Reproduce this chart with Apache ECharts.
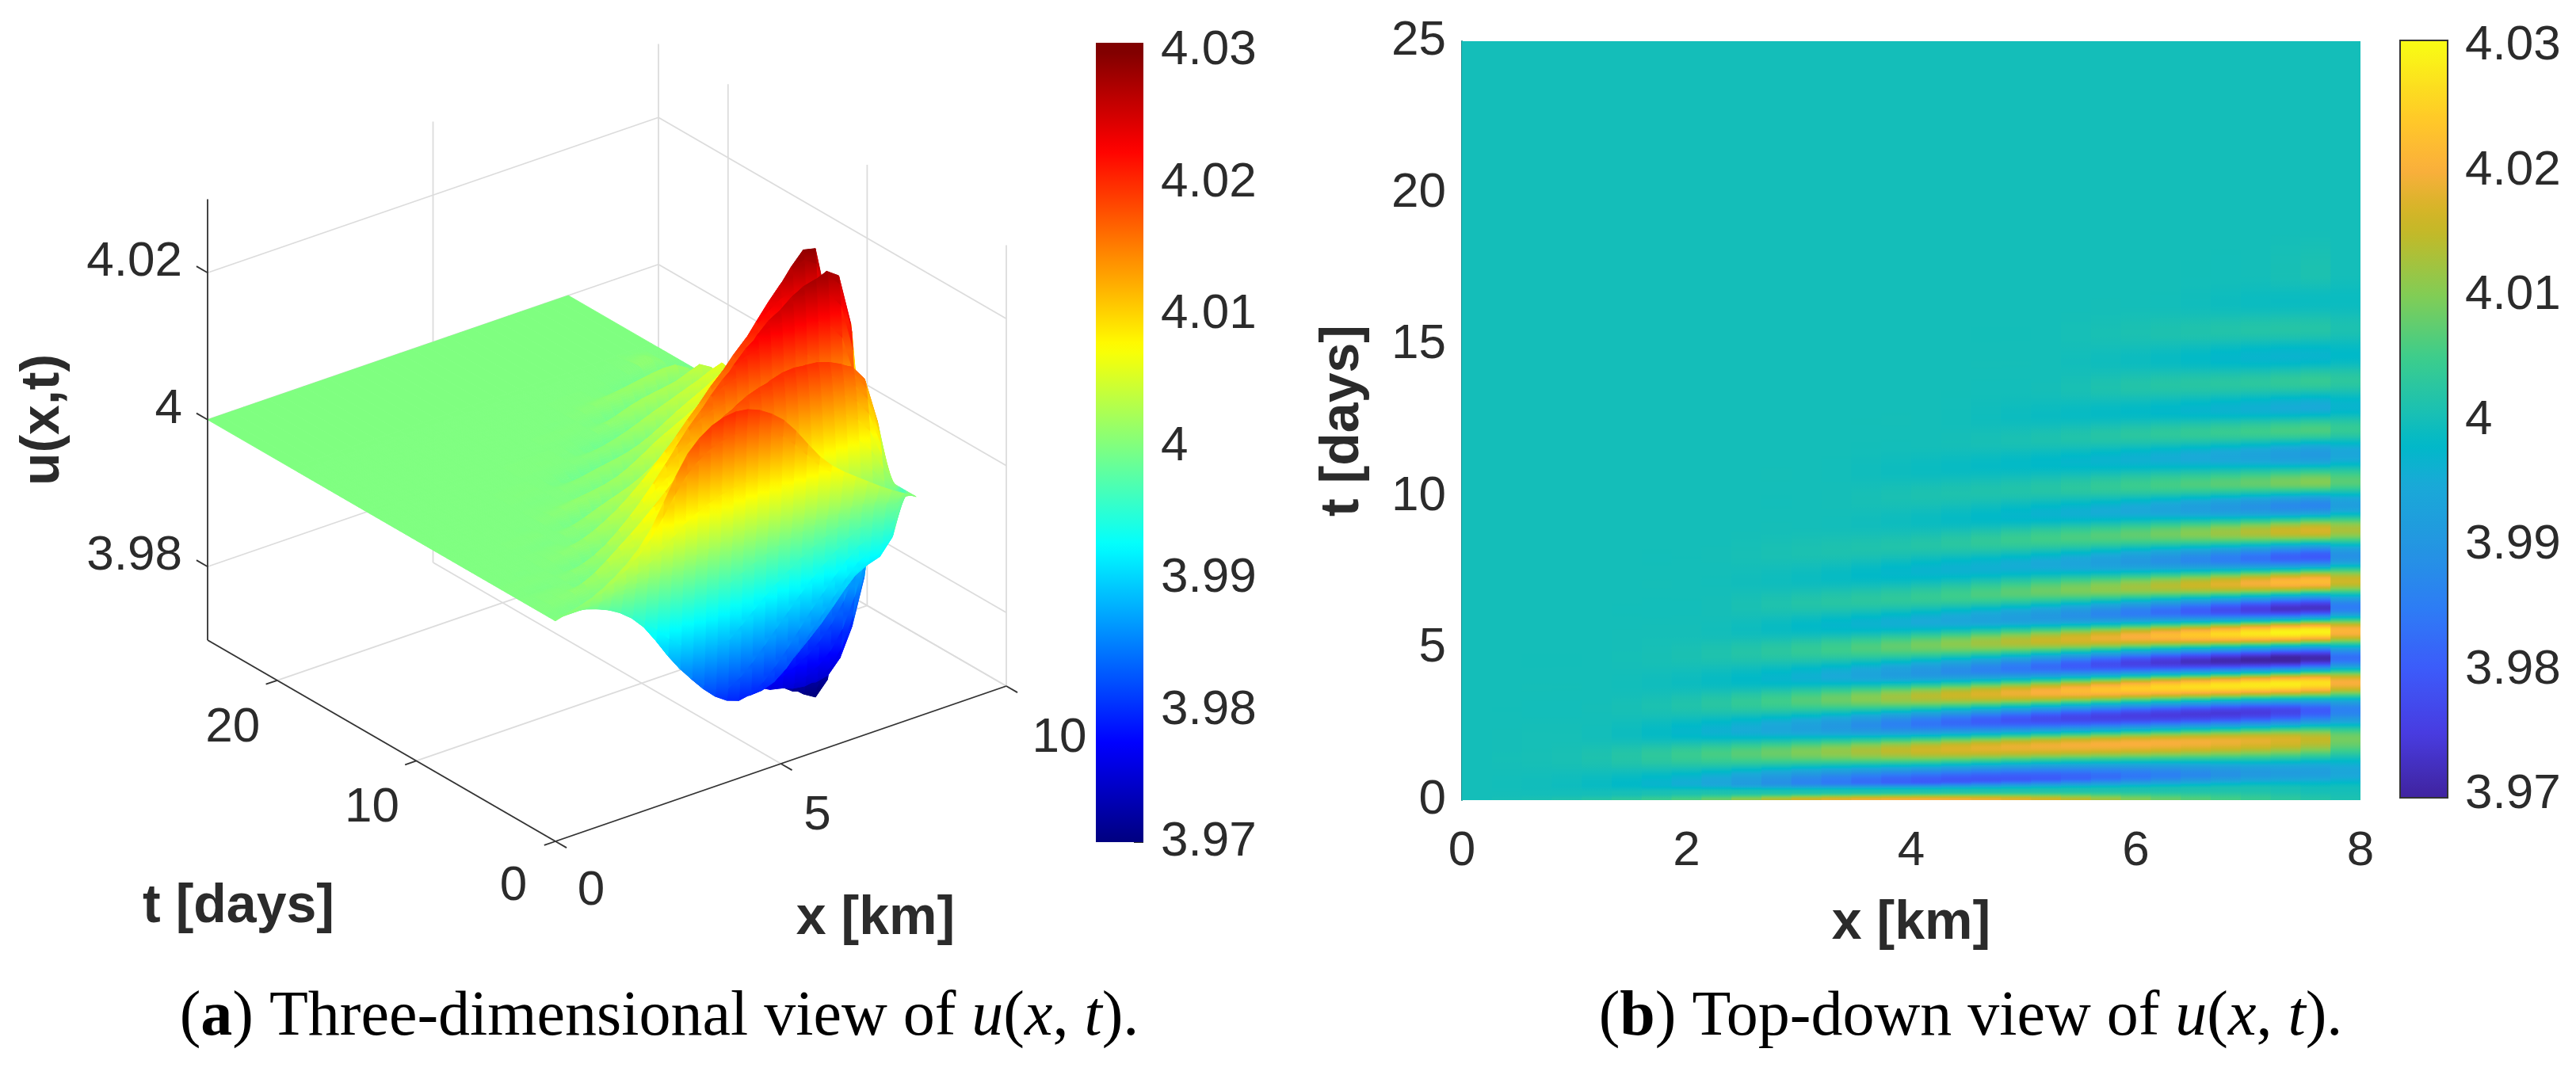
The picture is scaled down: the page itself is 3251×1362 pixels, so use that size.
<!DOCTYPE html>
<html><head><meta charset="utf-8">
<style>html,body{margin:0;padding:0;background:#fff}#c{width:3251px;height:1362px}</style>
<script src="https://cdn.jsdelivr.net/npm/echarts@6/dist/echarts.min.js"></script>
</head><body><div id="c"></div>
<script>
// ---- values ----
const xNodes = [0,1,2,3,4,5,6,7,7.467,7.733,8];
// each row: one crest/trough line of u(x,t), its time [days] at every xNode
const ridgeT = [
 [0,0,0,0,0,0,0,0,0,0,0],
 [.2,.2,.25,.28,.3,.32,.34,.36,.36,.36,.36],
 [.45,.5,.55,.58,.62,.72,.8,.87,.9,.9,.9],
 [1.35,1.4,1.5,1.58,1.66,1.77,1.87,1.96,2.0,2.02,2.02],
 [2.1,2.15,2.25,2.4,2.52,2.66,2.78,2.9,2.94,2.96,2.96],
 [2.95,3.0,3.15,3.3,3.42,3.55,3.7,3.8,3.85,3.87,3.87],
 [3.65,3.72,3.9,4.05,4.2,4.37,4.52,4.62,4.67,4.68,4.68],
 [4.5,4.6,4.8,4.95,5.1,5.25,5.4,5.5,5.55,5.57,5.57],
 [5.3,5.4,5.55,5.72,5.87,6.03,6.18,6.28,6.33,6.35,6.35],
 [6.1,6.2,6.35,6.5,6.67,6.88,7.03,7.15,7.2,7.22,7.22],
 [6.9,7.0,7.15,7.3,7.55,7.75,7.88,7.97,8.02,8.04,8.04],
 [7.8,7.85,8.0,8.2,8.4,8.62,8.75,8.84,8.88,8.9,8.9],
 [8.7,8.75,8.9,9.05,9.2,9.4,9.57,9.66,9.7,9.72,9.72],
 [9.5,9.55,9.7,9.85,10.05,10.25,10.37,10.45,10.48,10.5,10.5],
 [10.4,10.5,10.6,10.75,10.9,11.1,11.25,11.35,11.38,11.4,11.4],
 [11.3,11.35,11.45,11.6,11.75,11.9,12.05,12.15,12.2,12.22,12.22],
 [12.2,12.25,12.3,12.4,12.5,12.65,12.8,12.9,12.95,12.97,12.97],
 [13.1,13.15,13.2,13.3,13.4,13.5,13.65,13.75,13.8,13.82,13.82],
 [14.0,14.05,14.1,14.2,14.3,14.4,14.5,14.6,14.63,14.65,14.65],
 [15.0,15.05,15.1,15.2,15.25,15.3,15.4,15.5,15.53,15.55,15.55],
 [15.9,15.95,16.0,16.05,16.1,16.2,16.3,16.4,16.43,16.45,16.45],
 [16.8,16.85,16.9,16.95,17.0,17.1,17.2,17.3,17.35,17.4,17.4],
 [19,19,19,19,19,19,19,19,19,19,19],
 [25,25,25,25,25,25,25,25,25,25,25]
];
// u(x,t) on those lines, as (u - 4) * 1000
const ridgeMilli = [
 [0,2,7,17,20,17,9,4,2,1,0],
 [0,0,1,1,1,1,1,1,0,0,0],
 [0,-1,-5,-14,-20,-20,-15,-9,-8,-6,0],
 [0,1,5,10,16,19,20,18,15,9,0],
 [0,0,-3,-8,-16,-22,-25,-25,-20,-14,0],
 [0,0,2,7,14,20,25,28,27,20,0],
 [0,0,-1,-4,-10,-17,-25,-30,-29,-17,0],
 [0,0,1,4,9,15,21,28,29,21,0],
 [0,0,0,-2,-5,-9,-16,-25,-27,-15,0],
 [0,0,0,2,4,8,13,20,22,16,0],
 [0,0,0,-1,-3,-5,-10,-17,-20,-11,0],
 [0,0,0,1,2,5,8,14,17,13,0],
 [0,0,0,0,-1,-3,-6,-11,-13,-8,0],
 [0,0,0,0,1,2,5,8,10,7,0],
 [0,0,0,0,-1,-2,-4,-7,-9,-6,0],
 [0,0,0,0,0,1,3,5,6,4,0],
 [0,0,0,0,0,-1,-2,-4,-5,-3,0],
 [0,0,0,0,0,0,2,3,4,3,0],
 [0,0,0,0,0,0,-1,-3,-3,-2,0],
 [0,0,0,0,0,0,1,2,2,1,0],
 [0,0,0,0,0,0,0,-1,-1,-1,0],
 [0,0,0,0,0,0,0,0,1,0,0],
 [0,0,0,0,0,0,0,0,0,0,0],
 [0,0,0,0,0,0,0,0,0,0,0]
];
const colorbarTicks = [3.97,3.98,3.99,4,4.01,4.02,4.03];
const xTicks3d = [0,5,10];
const tTicks3d = [0,10,20];
const zTicks3d = [3.98,4,4.02];
const cmapParula = [[3.97,[64,36,160]],[3.975,[72,60,225]],[3.98,[60,90,250]],[3.985,[45,125,245]],[3.99,[35,150,225]],[3.995,[25,170,215]],[3.998,[0,185,200]],[4,[20,190,185]],[4.005,[60,205,140]],[4.01,[130,205,85]],[4.015,[195,185,40]],[4.017,[215,180,40]],[4.02,[250,175,60]],[4.024,[255,200,40]],[4.03,[249,251,20]]];

// ---- helpers ----
const FONT='"Liberation Sans",Arial,sans-serif', INK='#2b2b2b';
const TICK=62, TITLE=68, SERIF='"Liberation Serif",serif', CAP=80;
function nodeIndex(x){ let i=0; while(i<xNodes.length-2 && x>xNodes[i+1]) i++; return i; }
function lerpNodes(row,x){
  const i=nodeIndex(x), f=(x-xNodes[i])/(xNodes[i+1]-xNodes[i]);
  return row[i]+(row[i+1]-row[i])*f;
}
// smooth curve through a row's read values, so the surface has no creases at the nodes
function curveNodes(row,x){
  const n=xNodes.length, i=nodeIndex(x), h=xNodes[i+1]-xNodes[i], f=(x-xNodes[i])/h;
  const slope=k=>k<=0?(row[1]-row[0])/(xNodes[1]-xNodes[0]):k>=n-1?(row[n-1]-row[n-2])/(xNodes[n-1]-xNodes[n-2]):(row[k+1]-row[k-1])/(xNodes[k+1]-xNodes[k-1]);
  const m0=slope(i)*h,m1=slope(i+1)*h,f2=f*f,f3=f2*f;
  return (2*f3-3*f2+1)*row[i]+(f3-2*f2+f)*m0+(-2*f3+3*f2)*row[i+1]+(f3-f2)*m1;
}
function sampleU(x,t){
  let prevT=lerpNodes(ridgeT[0],x), prevU=curveNodes(ridgeMilli[0],x);
  if(t<=prevT) return 4+prevU/1000;
  for(let r=1;r<ridgeT.length;r++){
    const nt=lerpNodes(ridgeT[r],x), nu=curveNodes(ridgeMilli[r],x);
    if(t<=nt){
      const f=nt>prevT?(t-prevT)/(nt-prevT):1;
      const s=(1-Math.cos(Math.PI*Math.max(0,Math.min(1,f))))/2;
      return 4+(prevU+(nu-prevU)*s)/1000;
    }
    prevT=nt;prevU=nu;
  }
  return 4;
}
const rgb=c=>`rgb(${c.map(v=>Math.round(v)).join(',')})`;
function jet(u){
  const v=Math.max(0,Math.min(1,(u-3.97)/0.06));
  const f=a=>255*Math.max(0,Math.min(1,1.5-Math.abs(4*v-a)));
  return rgb([f(3),f(2),f(1)]);
}
function parula(u){
  const m=cmapParula;
  if(u<=m[0][0])return rgb(m[0][1]);
  for(let i=1;i<m.length;i++) if(u<=m[i][0]){
    const f=(u-m[i-1][0])/(m[i][0]-m[i-1][0]);
    return rgb(m[i][1].map((c,k)=>m[i-1][1][k]+(c-m[i-1][1][k])*f));
  }
  return rgb(m[m.length-1][1]);
}
// orthographic view of the 3-D box, in page units of the hidden full-page axes
const proj=(x,t,u)=>[701+56.9*x-17.56*t, 1062-19.6*x-10.16*t-9275*(u-3.97)];

// ---- surface facets, far to near ----
const COLS=30, dx=8/COLS;
const tFine=[]; for(let t=0;t<18.6;t+=0.08) tFine.push(+t.toFixed(2)); tFine.push(19,25);
const facets=[];
for(let k=tFine.length-2;k>=0;k--){
  for(let i=COLS-1;i>=0;i--){
    const x0=i*dx,x1=(i+1)*dx,t0=tFine[k],t1=tFine[k+1],xc=(x0+x1)/2;
    facets.push([x0,x1,t0,t1,sampleU(x0,t0),sampleU(x1,t0),sampleU(x0,t1),sampleU(x1,t1),sampleU(xc,t0),sampleU(xc,t1),xc]);
  }
}
function renderFacet(p,api){
  const v=i=>api.value(i);
  const pts=[proj(v(0),v(2),v(4)),proj(v(1),v(2),v(5)),proj(v(1),v(3),v(7)),proj(v(0),v(3),v(6))].map(q=>api.coord(q));
  const a=api.coord(proj(v(10),v(2),v(8))), b=api.coord(proj(v(10),v(3),v(9)));
  let fill=jet((v(8)+v(9))/2);
  if(Math.abs(a[1]-b[1])>1.5){
    const stops=[];
    for(let i=0;i<=6;i++) stops.push({offset:i/6,color:jet(v(8)+(v(9)-v(8))*i/6)});
    fill=new echarts.graphic.LinearGradient(0,a[1],0,b[1],stops,true);
  }
  return {type:'polygon',shape:{points:pts},style:{fill,stroke:fill,lineWidth:0.9}};
}
// ---- box lines ----
const seg=(a,b,k)=>[...a,...b,k];
const gridSegs=[], axisSegs=[];
zTicks3d.forEach(z=>{
  gridSegs.push(seg([0,25,z],[10,25,z],0),seg([10,25,z],[10,0,z],0));
  axisSegs.push(seg([0,25,z],[0,25+0.8,z],1));
});
xTicks3d.forEach(x=>{
  gridSegs.push(seg([x,0,3.97],[x,25,3.97],0),seg([x,25,3.97],[x,25,4.03],0));
  axisSegs.push(seg([x,0,3.97],[x,-0.8,3.97],1));
});
tTicks3d.forEach(t=>{
  gridSegs.push(seg([0,t,3.97],[10,t,3.97],0),seg([10,t,3.97],[10,t,4.03],0));
  axisSegs.push(seg([0,t,3.97],[-0.25,t,3.97],1));
});
gridSegs.push(seg([10,0,3.97],[10,25,3.97],0));
axisSegs.push(seg([0,25,3.97],[0,25,4.03],1),seg([0,0,3.97],[0,25,3.97],1),seg([0,0,3.97],[10,0,3.97],1));
function renderSeg(p,api){
  const a=api.coord(proj(api.value(0),api.value(1),api.value(2)));
  const b=api.coord(proj(api.value(3),api.value(4),api.value(5)));
  const isAxis=api.value(6)===1;
  return {type:'line',shape:{x1:a[0],y1:a[1],x2:b[0],y2:b[1]},
    style:{stroke:isAxis?'#333':'#dcdcdc',lineWidth:1.8}};
}
// ---- 3-D axis texts: anchor point in data space + label offset in page units ----
const texts3d=[
 ...zTicks3d.map(z=>({at:[0,25,z],dx:-32,dy:-13,text:String(z),align:'right'})),
 ...tTicks3d.map(t=>({at:[0,t,3.97],dx:t===0?-53:-56,dy:t===0?57:60,text:String(t),align:'center'})),
 ...xTicks3d.map(x=>({at:[x,0,3.97],dx:x===0?45:x===5?46:67,dy:x===0?63:66,text:String(x),align:'center'}))
];
function renderText3d(p,api){
  const o=texts3d[api.value(0)], q=api.coord(proj(...o.at));
  return {type:'text',style:{x:q[0]+o.dx,y:q[1]+o.dy,text:o.text,align:o.align,verticalAlign:'middle',font:`${TICK}px ${FONT}`,fill:INK}};
}
// ---- colorbars and heat map ----
function renderBar(cmap,frame){
  return function(p,api){
    const a=api.coord([0,api.value(1)]), b=api.coord([1,api.value(2)]);
    const lo=api.value(1),hi=api.value(2),stops=[];
    for(let i=0;i<=80;i++){const f=i/80;stops.push({offset:f,color:cmap(hi+(lo-hi)*f)});}
    return {type:'rect',shape:{x:a[0],y:b[1],width:b[0]-a[0],height:a[1]-b[1]},
      style:{fill:new echarts.graphic.LinearGradient(0,0,0,1,stops),stroke:frame?'#333':null,lineWidth:frame?2:0}};
  };
}
function renderHeatCol(p,api){
  const j=api.value(0), x0=j*dx, x1=(j+1)*dx;
  const a=api.coord([x0,25]), b=api.coord([x1,0]);
  const stops=[];
  const N=800;
  for(let i=0;i<=N;i++){ // from t=25 down to t=0
    const f=i/N; const t=25*(1-f);
    stops.push({offset:f,color:parula(sampleU(x0,t))});
  }
  return {type:'rect',shape:{x:a[0],y:a[1],width:b[0]-a[0]+(j<COLS-1?1:0),height:b[1]-a[1]},
    style:{fill:new echarts.graphic.LinearGradient(0,0,0,1,stops)}};
}
const fmtU=v=>String(+(+v).toFixed(2));
const colAxis=(gi,min,max)=>({gridIndex:gi,type:'value',position:'right',min,max,
  axisLine:{show:false,onZero:false},
  axisTick:{show:true,inside:true,length:12,customValues:colorbarTicks,lineStyle:{color:'#333',width:2}},
  splitLine:{show:false},
  axisLabel:{customValues:colorbarTicks,formatter:fmtU,margin:22,fontFamily:FONT,fontSize:TICK,color:INK}});
const noAxisX=(gi)=>({gridIndex:gi,type:'value',min:0,max:1,show:false});
const rich={b:{fontWeight:'bold',fontFamily:SERIF,fontSize:CAP,color:'#000'},
            i:{fontStyle:'italic',fontFamily:SERIF,fontSize:CAP,color:'#000'}};
const capStyle={fontFamily:SERIF,fontSize:CAP,fontWeight:'normal',color:'#000',rich};

const chart=echarts.init(document.getElementById('c'),null,{renderer:'canvas',width:3251,height:1362});
chart.setOption({
  animation:false,backgroundColor:'#fff',
  title:[
    {text:'({b|a}) Three-dimensional view of {i|u}({i|x}, {i|t}).',left:827,top:1240,textAlign:'center',textStyle:capStyle},
    {text:'({b|b}) Top-down view of {i|u}({i|x}, {i|t}).',left:2482,top:1240,textAlign:'center',textStyle:capStyle}
  ],
  grid:[
    {left:0,top:0,width:3251,height:1362},
    {left:1383,top:54,width:60,height:1009},
    {left:1845,top:52,width:1134,height:958},
    {left:3029,top:51,width:60,height:956}
  ],
  xAxis:[
    {gridIndex:0,type:'value',min:0,max:3251,show:false},
    noAxisX(1),
    {gridIndex:2,type:'value',min:0,max:8,interval:2,axisLine:{show:false},axisTick:{show:false},splitLine:{show:false},
     name:'x [km]',nameLocation:'middle',nameGap:122,nameTextStyle:{fontFamily:FONT,fontSize:TITLE,fontWeight:'bold',color:INK},
     axisLabel:{margin:34,fontFamily:FONT,fontSize:TICK,color:INK}},
    noAxisX(3)
  ],
  yAxis:[
    {gridIndex:0,type:'value',min:0,max:1362,inverse:true,show:false},
    colAxis(1,3.97,4.0306),
    {gridIndex:2,type:'value',min:0,max:25,interval:5,axisLine:{show:true,lineStyle:{color:'#1f8f8f',width:2}},axisTick:{show:false},splitLine:{show:false},
     name:'t [days]',nameLocation:'middle',nameGap:116,nameTextStyle:{fontFamily:FONT,fontSize:TITLE,fontWeight:'bold',color:INK},
     axisLabel:{margin:20,fontFamily:FONT,fontSize:TICK,color:INK}},
    colAxis(3,3.96975,4.03044)
  ],
  series:[
    {type:'custom',xAxisIndex:0,yAxisIndex:0,data:gridSegs,renderItem:renderSeg,clip:false,silent:true,z:1,progressive:0},
    {type:'custom',xAxisIndex:0,yAxisIndex:0,data:facets,renderItem:renderFacet,clip:false,silent:true,z:2,progressive:0},
    {type:'custom',xAxisIndex:0,yAxisIndex:0,data:axisSegs,renderItem:renderSeg,clip:false,silent:true,z:3,progressive:0},
    {type:'custom',xAxisIndex:0,yAxisIndex:0,data:texts3d.map((o,i)=>[i]),renderItem:renderText3d,clip:false,silent:true,z:4,progressive:0},
    {type:'custom',xAxisIndex:1,yAxisIndex:1,data:[[0,3.97,4.0306]],renderItem:renderBar(jet,false),silent:true,z:2},
    {type:'custom',xAxisIndex:2,yAxisIndex:2,data:Array.from({length:COLS},(_,j)=>[j]),renderItem:renderHeatCol,silent:true,z:2,progressive:0,encode:{x:0}},
    {type:'custom',xAxisIndex:3,yAxisIndex:3,data:[[0,3.96975,4.03044]],renderItem:renderBar(parula,true),silent:true,z:2}
  ],
  graphic:[
    {type:'text',x:55,y:530,rotation:Math.PI/2,style:{text:'u(x,t)',align:'center',verticalAlign:'middle',font:`bold ${TITLE}px ${FONT}`,fill:INK}},
    {type:'text',x:301,y:1145,style:{text:'t [days]',align:'center',verticalAlign:'middle',font:`bold ${TITLE}px ${FONT}`,fill:INK}},
    {type:'text',x:1105,y:1160,style:{text:'x [km]',align:'center',verticalAlign:'middle',font:`bold ${TITLE}px ${FONT}`,fill:INK}}
  ]
});
</script></body></html>
